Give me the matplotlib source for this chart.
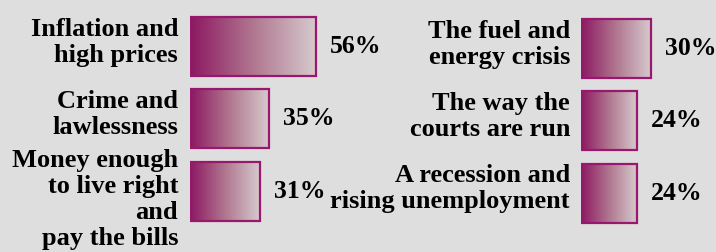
import numpy as np
import matplotlib
matplotlib.use('Agg')
import matplotlib.pyplot as plt
from matplotlib.colors import LinearSegmentedColormap
from matplotlib.patches import Rectangle

# data
left_labels = ['Inflation and\nhigh prices', 'Crime and\nlawlessness',
               'Money enough\nto live right\nand\npay the bills']
left_values = [56, 35, 31]
right_labels = ['The fuel and\nenergy crisis', 'The way the\ncourts are run',
                'A recession and\nrising unemployment']
right_values = [30, 24, 24]

BG = '#dedede'
EDGE = '#9a1770'
cmap = LinearSegmentedColormap.from_list('grad', ['#8c1862', '#b0768f', '#d6cacd'])
grad = np.linspace(0, 1, 256).reshape(1, -1)

fig = plt.figure(figsize=(7.16, 2.52), dpi=100)
fig.patch.set_facecolor(BG)
W, H = 716.0, 252.0
serif = ['Liberation Serif', 'DejaVu Serif']


def panel(x0, x1, scale, labels, values, label_x, top):
    # axes in percent units, positioned in pixels
    ax = fig.add_axes([x0 / W, 0, (x1 - x0) / W, 1])
    ax.set_facecolor('none')
    step = 72.3
    ax.axis('off')
    h = 59 / step
    for i, (lab, v) in enumerate(zip(labels, values)):
        ax.imshow(grad, cmap=cmap, aspect='auto',
                  extent=(0, v, i + h / 2, i - h / 2), zorder=1)
        ax.add_patch(Rectangle((0, i - h / 2), v, h, fill=False,
                               edgecolor=EDGE, linewidth=1.6, zorder=2))
        ax.text(v + 14 / scale, i, f'{v}%', ha='left', va='center',
                family=serif, fontweight='bold', fontsize=18.5)
        # long labels sit a little lower than the bar centre
        dy = 0.12 if lab.count('\n') > 1 else -0.06
        ax.text(-(x0 - label_x) / scale, i + dy, lab, ha='right', va='center',
                linespacing=1.17, family=serif, fontweight='bold', fontsize=19)
    ax.set_xlim(0, (x1 - x0) / scale)
    ax.set_ylim((H - top) / step, -top / step)


panel(190, 360, 2.25, left_labels, left_values, 178, 46.5)
panel(581, 716, 2.33, right_labels, right_values, 570, 48.5)

fig.savefig('out.png', dpi=100, facecolor=BG)
